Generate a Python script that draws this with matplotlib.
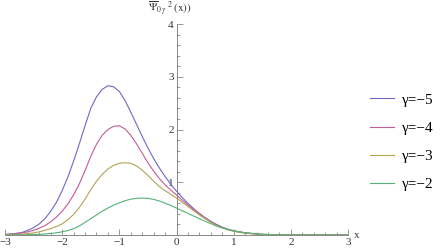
import numpy as np
import matplotlib
matplotlib.use('Agg')
import matplotlib.pyplot as plt
from matplotlib.ticker import MultipleLocator

plt.rcParams['font.family'] = ['Liberation Serif', 'DejaVu Serif']
plt.rcParams['mathtext.fontset'] = 'stix'

x = np.round(np.arange(-3.0, 3.01, 0.1), 1)

# gamma = -5
psi_m5 = [0.01, 0.02, 0.03, 0.05, 0.09, 0.14, 0.21, 0.31, 0.45, 0.62,
          0.84, 1.10, 1.40, 1.73, 2.07, 2.40, 2.62, 2.76, 2.83, 2.81,
          2.72, 2.55, 2.33, 2.10, 1.87, 1.65, 1.45, 1.27, 1.11, 0.96,
          0.83, 0.71, 0.60, 0.50, 0.41, 0.33, 0.26, 0.20, 0.15, 0.11,
          0.08, 0.06, 0.04, 0.03, 0.02, 0.01, 0.007, 0.004, 0.002, 0.001,
          0, 0, 0, 0, 0, 0, 0, 0, 0, 0, 0]
# gamma = -4
psi_m4 = [0.01, 0.015, 0.025, 0.04, 0.06, 0.09, 0.13, 0.18, 0.25, 0.34,
          0.45, 0.59, 0.76, 0.97, 1.22, 1.49, 1.72, 1.89, 2.00, 2.06,
          2.07, 2.01, 1.89, 1.73, 1.55, 1.37, 1.21, 1.07, 0.95, 0.85,
          0.76, 0.66, 0.57, 0.48, 0.40, 0.32, 0.25, 0.19, 0.14, 0.10,
          0.075, 0.055, 0.04, 0.03, 0.02, 0.012, 0.008, 0.005, 0.003, 0.002,
          0.001, 0, 0, 0, 0, 0, 0, 0, 0, 0, 0]
# gamma = -3
psi_m3 = [0.005, 0.008, 0.012, 0.018, 0.027, 0.04, 0.06, 0.09, 0.12, 0.16,
          0.21, 0.29, 0.39, 0.52, 0.68, 0.86, 1.02, 1.15, 1.25, 1.32,
          1.36, 1.37, 1.36, 1.31, 1.23, 1.13, 1.02, 0.92, 0.84, 0.77,
          0.70, 0.62, 0.54, 0.46, 0.38, 0.31, 0.24, 0.18, 0.135, 0.10,
          0.07, 0.05, 0.035, 0.025, 0.017, 0.011, 0.007, 0.004, 0.002, 0.001,
          0, 0, 0, 0, 0, 0, 0, 0, 0, 0, 0]
# gamma = -2
psi_m2 = [0.001, 0.001, 0.002, 0.004, 0.006, 0.009, 0.013, 0.02, 0.029, 0.042,
          0.06, 0.085, 0.12, 0.17, 0.24, 0.31, 0.38, 0.45, 0.51, 0.565,
          0.61, 0.65, 0.68, 0.695, 0.70, 0.695, 0.675, 0.645, 0.605, 0.56,
          0.51, 0.46, 0.41, 0.36, 0.31, 0.26, 0.215, 0.17, 0.135, 0.105,
          0.08, 0.06, 0.045, 0.032, 0.022, 0.015, 0.01, 0.006, 0.004, 0.002,
          0.001, 0, 0, 0, 0, 0, 0, 0, 0, 0, 0]

series = [psi_m5, psi_m4, psi_m3, psi_m2]
labels = ['\u03b3=\u22125', '\u03b3=\u22124', '\u03b3=\u22123', '\u03b3=\u22122']
colors = ['#6a6ac4', '#c45a98', '#b4a452', '#56b274']

fig = plt.figure(figsize=(4.41, 2.5), dpi=100)
ax = fig.add_axes([5/441, 15/250, 343/441, 211/250])

for y, lab, c in zip(series, labels, colors):
    ax.plot(x, y, color=c, lw=0.8, label=lab)

ax.set_xlim(-3, 3)
ax.set_ylim(0, 4)
ax.spines['left'].set_position(('data', 0))
ax.spines['bottom'].set_position(('data', 0))
ax.spines['top'].set_visible(False)
ax.spines['right'].set_visible(False)
for s in ['left', 'bottom']:
    ax.spines[s].set_color('#888888')
    ax.spines[s].set_linewidth(0.7)

ax.xaxis.set_major_locator(MultipleLocator(1))
ax.xaxis.set_minor_locator(MultipleLocator(0.2))
ax.yaxis.set_major_locator(MultipleLocator(1))
ax.yaxis.set_minor_locator(MultipleLocator(0.2))
ax.set_yticks([1, 2, 3, 4])
ax.set_yticklabels(['1', '2', '3', '4'])
ax.set_xticks([-3, -2, -1, 0, 1, 2, 3])
ax.set_xticklabels(['\u22123', '\u22122', '\u22121', '0', '1', '2', '3'])
ax.tick_params(which='both', direction='in', color='#888888', width=0.6,
               labelsize=8, labelcolor='#333333', pad=2)
ax.tick_params(which='major', length=4)
ax.tick_params(which='minor', length=2)

ax.text(3.1, 0, 'x', fontsize=8, color='#333333', va='center', ha='left',
        clip_on=False)
ax.text(-0.5, 4.12, r'$\overline{\Psi}_{0\,\gamma}\ ^{2}\,(\mathrm{x}))$',
        fontsize=8, color='#333333', ha='left', va='bottom', clip_on=False)

ax.legend(loc='upper left', bbox_to_anchor=(370/441, 1 - 93/250),
          bbox_transform=fig.transFigure, frameon=False, fontsize=11,
          handlelength=1.6, handletextpad=0.5, labelspacing=0.95,
          borderpad=0, borderaxespad=0)

fig.savefig('out.png', dpi=100)
